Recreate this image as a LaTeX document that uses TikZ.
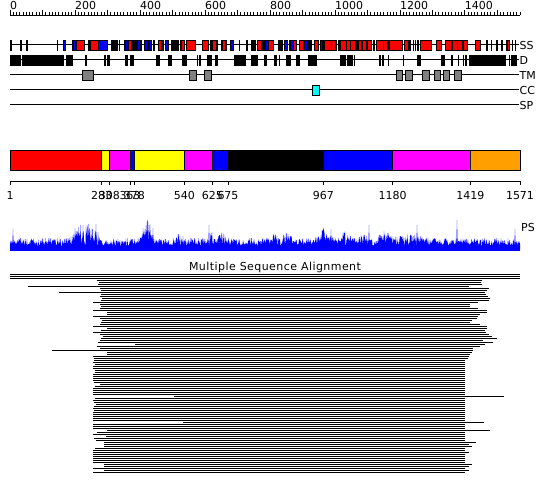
\documentclass[tikz,border=0pt]{standalone}
\usepackage{fontspec}
\setmainfont{DejaVu Sans}
\definecolor{cR}{RGB}{255,0,0}
\definecolor{cB}{RGB}{0,0,255}
\definecolor{cK}{RGB}{0,0,0}
\definecolor{cM}{RGB}{255,0,255}
\definecolor{cY}{RGB}{255,255,0}
\definecolor{cO}{RGB}{255,160,0}
\definecolor{cG}{RGB}{128,128,128}
\definecolor{cC}{RGB}{0,255,255}
\begin{document}
\begin{tikzpicture}[x=1pt,y=-1pt,
  lbl/.style={inner sep=0pt,font=\fontsize{11}{13}\selectfont},
  trackline/.style={line width=1pt,black},
  featbox/.style={draw=black,line width=0.8pt},
  declare function={tri(\x,\c,\w)=max(0,1-abs(\x-\c)/\w);
    bump(\x)=12*tri(\x,85,16)+6*tri(\x,97,3)+16*tri(\x,147,7)+6*tri(\x,180,5)
      +6*tri(\x,211,3)+5*tri(\x,223,6)+4*tri(\x,272,8)+5*tri(\x,287,6)+8*tri(\x,325,10)
      +5*tri(\x,345,8)+4*tri(\x,365,8)+5*tri(\x,385,10)+3*tri(\x,410,20);}]
\useasboundingbox (0,0) rectangle (550,495);
\fill[white] (0,0) rectangle (550,495);

% ---------- ruler ----------
\draw[line width=0.8pt] (10,15.5) -- (520,15.5);
\foreach \p in {0,10,...,1570} \draw[line width=0.6pt] ({10+\p*0.32484},15.5) -- ({10+\p*0.32484},12.3);
\foreach \p in {0,100,...,1500} \draw[line width=0.6pt] ({10+\p*0.32484},15.5) -- ({10+\p*0.32484},10.5);
\foreach \p in {0,200,...,1400} \node[lbl,anchor=base west] (r\p) at ({10+\p*0.32484},10) {\p};

% ---------- tracks ----------
\foreach \y/\n in {45/SS,60/D,75/TM,90/CC,105/SP} {
  \draw[trackline] (10,\y) -- (519,\y);
  \node[lbl,anchor=west] (t\n) at (519.5,{\y+0.8}) {\n};
}
% SS
\foreach \a/\b/\c in {10.5/10.9/cK,20.5/20.9/cK,26.5/26.9/cK,57.1/57.5/cK,63.3/65.7/cB,72.5/72.9/cK,73.5/75/cB,
 76/84/cR,88.5/88.9/cK,90/98.3/cR,98.3/107.3/cB,111.7/113.3/cK,114/117.3/cK,119.1/119.5/cK,124.1/124.5/cK,
 125.7/127/cB,128.7/131/cR,131/136.7/cK,137.3/140/cB,140.8/141.2/cK,144/147.3/cB,148.8/149.2/cK,149.7/151.7/cB,
 153.8/154.2/cK,158.3/161.7/cR,161.7/163/cK,165.7/168.3/cB,171/178.7/cK,180.8/181.2/cK,181.7/184/cR,186.7/195/cR,
 202.7/208.7/cR,210.3/212/cK,212/216/cR,216.8/217.2/cK,221/222.3/cK,222.3/225/cR,225/226.2/cB,230/233/cB,
 239.1/239.5/cK,246/247.3/cK,251/255/cK,257.3/261.7/cR,262.7/264/cK,265.3/268.3/cB,268.7/273.3/cR,
 278.3/282.7/cK,284.7/287.3/cB,289.8/290.2/cK,290.7/293.3/cB,293.3/296.3/cR,299.3/303.3/cR,304.7/307/cB,
 307/311.7/cK,314.3/318.3/cR,320/322.3/cB,323.4/323.8/cK,324.3/331/cR,331/335.3/cR,336.3/336.7/cK,338/339.3/cK,
 340/346.7/cR,346.7/350/cR,350/355.3/cR,356.5/357.5/cB,358.3/361.7/cR,362/366.7/cR,367.7/371.7/cR,373.5/374.5/cB,
 376.7/383.3/cR,383.7/387.3/cR,388.3/388.7/cK,389.3/402.7/cR,404.3/408.3/cR,409/410.3/cK,413.3/413.7/cK,
 415.3/415.7/cK,417.6/418/cK,420.7/431/cR,436/441/cR,445/451.7/cR,452.7/457.7/cR,457.7/462.3/cR,463/467.7/cR,
 475.7/480.3/cR,486/487.5/cB,491.3/491.7/cK,496.8/497.2/cK,501.6/502/cK,506/507.7/cK,507.7/509/cR,
 512/512.4/cK,515/515.4/cK}
  \filldraw[featbox,fill=\c] (\a,40) rectangle (\b,50.5);
% D
\foreach \a/\b in {10/14.3,15.7/20.7,22.7/63.3,66.7/70,71.5/71.9,85.8/86.2,104/105.7,107.3/109.3,125.7/127.7,
 130/133.3,156/159.7,168/171.7,182/186.7,197.1/197.5,199.8/200.2,207/211,215/217.7,234/245.7,251/257.7,
 264/266.7,274.7/276.7,279.1/279.5,286.7/290,296/299,308/309.3,310.7/316.7,340/345,347/352.7,354.1/354.5,
 379/380.7,382/383.7,388.1/388.5,403.1/403.5,417.3/420.7,441/444,451.5/451.9,458.1/458.5,463.1/463.5,
 465.8/466.2,469.3/505,509.1/509.5,511/512.3,513.7/516.7}
  \filldraw[featbox,fill=black] (\a,55.3) rectangle (\b,65.5);
% TM
\foreach \a/\b in {82.3/93.7,189/196.7,204/211.7,396/402.7,405/412,422/429,434.3/440.7,443.3/449.3,454.3/461.3}
  \filldraw[featbox,fill=cG] (\a,70.2) rectangle (\b,80.5);
% CC
\filldraw[featbox,fill=cC] (312.3,85.2) rectangle (319.7,95.5);

% ---------- domain bar ----------
\foreach \a/\b/\c in {10/101.7/cR,101.7/109.3/cY,109.3/130/cM,130/134.3/cB,134.3/184.3/cY,184.3/212.3/cM,
 212.3/228/cB,228/323.3/cK,323.3/392.7/cB,392.7/470.3/cM,470.3/520/cO}
  \filldraw[featbox,fill=\c] (\a,150.3) rectangle (\b,170.3);
\draw[line width=0.8pt] (10,181) -- (520,181);
\foreach \x/\t in {10/1,101.7/283,109.3/308,130/363,134.3/378,184.3/540,212.3/625,228/675,323.3/967,
 392.7/1180,470.3/1419,520/1571} {
  \draw[line width=0.8pt] (\x,181) -- (\x,185.5);
  \node[lbl,anchor=base] (b\t) at (\x,200) {\t};
}

% ---------- PS profile ----------
\pgfmathsetseed{4321}
\fill[cB] (10,250) \foreach \i in {0,...,1020} {
   \pgfextra{\pgfmathsetmacro{\px}{10+\i/2}\pgfmathsetmacro{\ph}{4+rnd*(8+1.6*bump(\px))}}
   -- (\px,250-\ph) } -- (520,250) -- cycle;
\foreach \x/\h in {13/21,75/22,83/25,96/26,148/28,153/22,209/25,331/21,369/25,417/25,457/30,515/21}
  \fill[cB] (\x-0.8,250) -- (\x,250-\h) -- (\x+0.8,250) -- cycle;
\draw[cB,line width=1pt] (10,250) -- (520,250);
\node[lbl,anchor=base west] (psl) at (521,231) {PS};

% ---------- alignment ----------
\node[lbl,anchor=base] (msa) at (275,270) {\addfontfeature{LetterSpace=4}Multiple Sequence Alignment};
\foreach \k/\a/\b in {0/10/520,1/10/520,2/10/520,3/97/482,4/99/481,5/98/482,6/28/469,7/100/489,8/101/487,
 9/59/485,10/101/486,11/100/488,12/102/490,13/101/489,14/93/478,15/100/470,16/101/470,17/100/478,18/93/487,
 19/107/487,20/107/480,21/93/478,22/100/477,23/102/472,24/101/470,25/100/480,26/93/487,27/107/487,28/101/485,
 29/93/486,30/100/489,31/103/492,32/101/497,33/100/483,34/98/493,35/135/485,36/97/480,37/100/473,38/52/473,
 39/107/472,40/107/470,41/93/469,42/94/468,43/94/465,44/93/465,45/95/465,46/93/465,47/92.7/465,48/95/465,
 49/95.3/465,50/93/465,51/93/465,52/93/465,53/93/465,54/94/465,55/100/465,56/95/465,57/93/465,58/93/465,
 59/92.7/465,60/93/465,61/174/503.7,62/95/465,63/93/465,64/94/465,65/95.7/465,66/94/465,67/93/465,68/94/465,
 69/93/465,70/93/465,71/93/465,72/93/465,73/93/465,74/183.3/484.3,75/93/465,76/93/465,77/93/465,
 78/106.7/490.3,79/96.7/465,80/92.7/465,81/106/465,82/94/465,83/95.7/465,84/104.3/475.7,85/104.3/469,
 86/104.3/472.3,87/95/465,88/93/465,89/93/469,90/93/465,91/93/465,92/93/465,93/92.7/465,94/93/465,
 95/104.3/472.3,96/104.3/469,97/93/465,98/104.3/469,99/93.3/465}
  \draw[line width=1pt] (\a,{274.5+2*\k}) -- (\b,{274.5+2*\k});
\end{tikzpicture}
\end{document}
